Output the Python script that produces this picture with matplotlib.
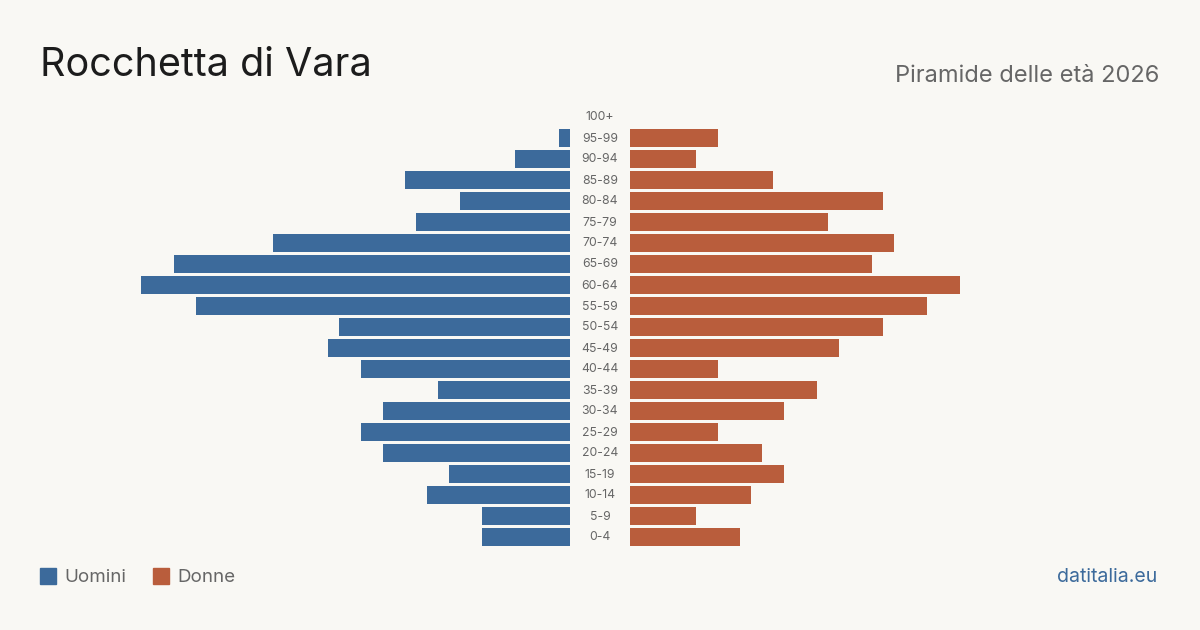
import matplotlib.pyplot as plt
from matplotlib.patches import Rectangle

# Dati: popolazione per classe di età (dal basso verso l'alto)
eta = ['0-4', '5-9', '10-14', '15-19', '20-24', '25-29', '30-34', '35-39',
       '40-44', '45-49', '50-54', '55-59', '60-64', '65-69', '70-74', '75-79',
       '80-84', '85-89', '90-94', '95-99', '100+']
uomini = [8, 8, 13, 11, 17, 19, 17, 12, 19, 22, 21, 34, 39, 36, 27, 14, 10, 15, 5, 1, 0]
donne = [10, 6, 11, 14, 12, 8, 14, 17, 8, 19, 23, 27, 30, 22, 24, 18, 23, 13, 6, 8, 0]

BLU = '#3c6a9b'
ROSSO = '#b95d3c'
SFONDO = '#f9f8f4'
GRIGIO = '#666666'
FONT = ['Inter', 'DejaVu Sans']

W, H = 1200, 630
fig = plt.figure(figsize=(12, 6.3), dpi=100, facecolor=SFONDO)

scala = 11.0  # pixel per persona
y_bottom = (H - 547.5) / H
y_height = 441 / H

ax_l = fig.add_axes([40 / W, y_bottom, 530 / W, y_height])
ax_r = fig.add_axes([630 / W, y_bottom, 530 / W, y_height])

pos = list(range(len(eta)))
ax_l.barh(pos, uomini, height=0.81, color=BLU)
ax_r.barh(pos, donne, height=0.81, color=ROSSO)

ax_l.set_xlim(530 / scala, 0)
ax_r.set_xlim(0, 530 / scala)
for ax in (ax_l, ax_r):
    ax.set_ylim(-0.5, len(eta) - 0.5)
    ax.axis('off')

# etichette delle classi di età al centro
for i, e in enumerate(eta):
    fig.text(600 / W, (H - (537.5 - 21 * i)) / H, e, ha='center', va='center',
             fontsize=8.8, color=GRIGIO, family=FONT)

fig.text(40 / W, (H - 66) / H, 'Rocchetta di Vara', ha='left', va='center',
         fontsize=28.5, color='#1c1c1c', family=FONT)
fig.text(1159 / W, (H - 76) / H, 'Piramide delle età 2026', ha='right', va='center',
         fontsize=17, color=GRIGIO, family=FONT)

# legenda
fig.patches.append(Rectangle((40 / W, (H - 584) / H), 16 / W, 16 / H,
                             transform=fig.transFigure, color=BLU))
fig.text(64 / W, (H - 577) / H, 'Uomini', ha='left', va='center',
         fontsize=13.5, color=GRIGIO, family=FONT)
fig.patches.append(Rectangle((153 / W, (H - 584) / H), 16 / W, 16 / H,
                             transform=fig.transFigure, color=ROSSO))
fig.text(177 / W, (H - 577) / H, 'Donne', ha='left', va='center',
         fontsize=13.5, color=GRIGIO, family=FONT)

fig.text(1157 / W, (H - 577) / H, 'datitalia.eu', ha='right', va='center',
         fontsize=14, color=BLU, family=FONT)

fig.savefig('out.png', dpi=100, facecolor=SFONDO)
